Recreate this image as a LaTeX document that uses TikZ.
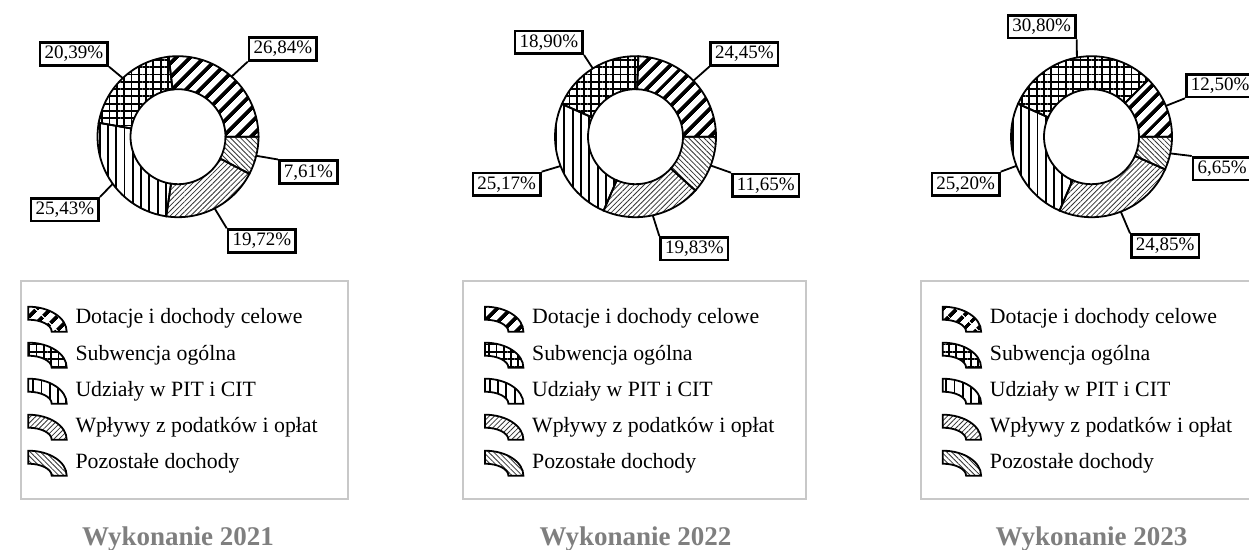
\documentclass[tikz,border=0pt]{standalone}
\usepackage{fontspec}
\setmainfont{Liberation Serif}
\usetikzlibrary{patterns.meta}
\definecolor{legendgray}{HTML}{C8C8C8}
\definecolor{titlegray}{HTML}{7F7F7F}
\newcommand\slice[4]{\path[#4,ringpart] (#1:80.5) arc[start angle=#1,end angle=#2,radius=80.5] -- (#2:47.5) arc[start angle=#2,end angle=#1,radius=47.5] -- cycle; \coordinate (#3) at ({(#1+#2)/2}:80.5);}
\newcommand\legkey[5]{\path[#4,ringpart] (#2,#3) ++(0,25) arc[start angle=90,end angle=0,x radius=38.4,y radius=25] -- ++(-15,0) arc[start angle=0,end angle=90,x radius=23.4,y radius=12] -- cycle; \node[legtext] (#1) at (#2+47,#3+7.7) {#5};}
\newcommand\connect[2]{\draw[leader] (#1) -- (#2);}

\begin{document}
\begin{tikzpicture}[x=1pt,y=1pt]
\tikzstyle{ringpart}=[draw,line width=1.8pt]
\tikzstyle{dotacje}=[pattern={Lines[angle=45,distance=10.5pt,line width=4.2pt]}]
\tikzstyle{subwencja}=[pattern={Hatch[angle=0,distance=7.3pt,line width=1.8pt]}]
\tikzstyle{udzialy}=[pattern={Lines[angle=90,distance=8.3pt,line width=1.9pt]}]
\tikzstyle{wplywy}=[pattern={Lines[angle=45,distance=3.6pt,line width=0.8pt]},pattern color=black!80]
\tikzstyle{pozostale}=[pattern={Lines[angle=-45,distance=3.6pt,line width=0.8pt]},pattern color=black!80]
\tikzstyle{pct}=[draw,line width=2.6pt,fill=white,inner xsep=4.5pt,inner ysep=3.6pt,font=\fontsize{19}{21}\selectfont]
\tikzstyle{leader}=[line width=1.8pt]
\tikzstyle{legtext}=[anchor=base west,inner sep=0pt,font=\fontsize{21.8}{24}\selectfont]
\tikzstyle{legbox}=[draw=legendgray,line width=2pt]
\tikzstyle{ttl}=[anchor=base,inner sep=0pt,text=titlegray,font=\bfseries\fontsize{27}{30}\selectfont]
\fill[white] (0,0) rectangle (1249,549);
\useasboundingbox (0,0) rectangle (1249,549);

%% 2021
\begin{scope}[shift={(178,412.3)}]
\slice{0}{96.62}{m21dot}{dotacje}
\slice{96.62}{170.03}{m21sub}{subwencja}
\slice{170.03}{261.58}{m21udz}{udzialy}
\slice{261.58}{332.57}{m21wpl}{wplywy}
\slice{332.57}{360}{m21poz}{pozostale}
\end{scope}
\node[pct,anchor=south west] (l21dot) at (247.7,487.3) {26,84\%};
\node[pct,anchor=south east] (l21sub) at (109,482.3) {20,39\%};
\node[pct,anchor=north east] (l21udz) at (100,352) {25,43\%};
\node[pct,anchor=north west] (l21wpl) at (226.7,320.7) {19,72\%};
\node[pct,anchor=north west] (l21poz) at (278,389.5) {7,61\%};

%% 2022
\begin{scope}[shift={(635.5,412.3)}]
\slice{0}{88.02}{m22dot}{dotacje}
\slice{88.02}{156.06}{m22sub}{subwencja}
\slice{156.06}{246.67}{m22udz}{udzialy}
\slice{246.67}{318.06}{m22wpl}{wplywy}
\slice{318.06}{360}{m22poz}{pozostale}
\end{scope}
\node[pct,anchor=south west] (l22dot) at (709.3,482.3) {24,45\%};
\node[pct,anchor=south east] (l22sub) at (584,494) {18,90\%};
\node[pct,anchor=north east] (l22udz) at (541.7,377.3) {25,17\%};
\node[pct,anchor=north west] (l22wpl) at (659.3,313) {19,83\%};
\node[pct,anchor=north west] (l22poz) at (731,376.3) {11,65\%};

%% 2023
\begin{scope}[shift={(1091.5,412.3)}]
\slice{0}{45}{m23dot}{dotacje}
\slice{45}{155.88}{m23sub}{subwencja}
\slice{155.88}{246.6}{m23udz}{udzialy}
\slice{246.6}{336.06}{m23wpl}{wplywy}
\slice{336.06}{360}{m23poz}{pozostale}
\end{scope}
\node[pct,anchor=south west] (l23dot) at (1185,450.7) {12,50\%};
\node[pct,anchor=south east] (l23sub) at (1076.7,509.7) {30,80\%};
\node[pct,anchor=north east] (l23udz) at (1000.7,377.3) {25,20\%};
\node[pct,anchor=north west] (l23wpl) at (1130,315.7) {24,85\%};
\node[pct,anchor=north west] (l23poz) at (1191.7,393) {6,65\%};

%% leaders
\connect{m21dot}{l21dot.south west}
\connect{m21sub}{l21sub.south east}
\connect{m21udz}{l21udz.north east}
\connect{m21wpl}{l21wpl.north west}
\connect{m21poz}{l21poz.north west}
\connect{m22dot}{l22dot.south west}
\connect{m22sub}{l22sub.south east}
\connect{m22udz}{l22udz.north east}
\connect{m22wpl}{l22wpl.north west}
\connect{m22poz}{l22poz.north west}
\connect{m23dot}{l23dot.south west}
\connect{m23sub}{l23sub.south east}
\connect{m23udz}{l23udz.north east}
\connect{m23wpl}{l23wpl.north west}
\connect{m23poz}{l23poz.north west}

%% legends
\draw[legbox] (20.7,268.3) rectangle (348.3,50);
\legkey{k21dot}{28.3}{217.3}{dotacje}{Dotacje i dochody celowe}
\legkey{k21sub}{28.3}{181.3}{subwencja}{Subwencja ogólna}
\legkey{k21udz}{28.3}{145.3}{udzialy}{Udziały w PIT i CIT}
\legkey{k21wpl}{28.3}{109.3}{wplywy}{Wpływy z podatków i opłat}
\legkey{k21poz}{28.3}{73.3}{pozostale}{Pozostałe dochody}
\draw[legbox] (463.3,268.3) rectangle (806,50);
\legkey{k22dot}{485}{217.3}{dotacje}{Dotacje i dochody celowe}
\legkey{k22sub}{485}{181.3}{subwencja}{Subwencja ogólna}
\legkey{k22udz}{485}{145.3}{udzialy}{Udziały w PIT i CIT}
\legkey{k22wpl}{485}{109.3}{wplywy}{Wpływy z podatków i opłat}
\legkey{k22poz}{485}{73.3}{pozostale}{Pozostałe dochody}
\draw[legbox] (920.7,268.3) rectangle (1262,50);
\legkey{k23dot}{942.7}{217.3}{dotacje}{Dotacje i dochody celowe}
\legkey{k23sub}{942.7}{181.3}{subwencja}{Subwencja ogólna}
\legkey{k23udz}{942.7}{145.3}{udzialy}{Udziały w PIT i CIT}
\legkey{k23wpl}{942.7}{109.3}{wplywy}{Wpływy z podatków i opłat}
\legkey{k23poz}{942.7}{73.3}{pozostale}{Pozostałe dochody}

%% titles
\node[ttl] (t21) at (178,4) {Wykonanie 2021};
\node[ttl] (t22) at (635.5,4) {Wykonanie 2022};
\node[ttl] (t23) at (1091.5,4) {Wykonanie 2023};
\end{tikzpicture}
\end{document}
